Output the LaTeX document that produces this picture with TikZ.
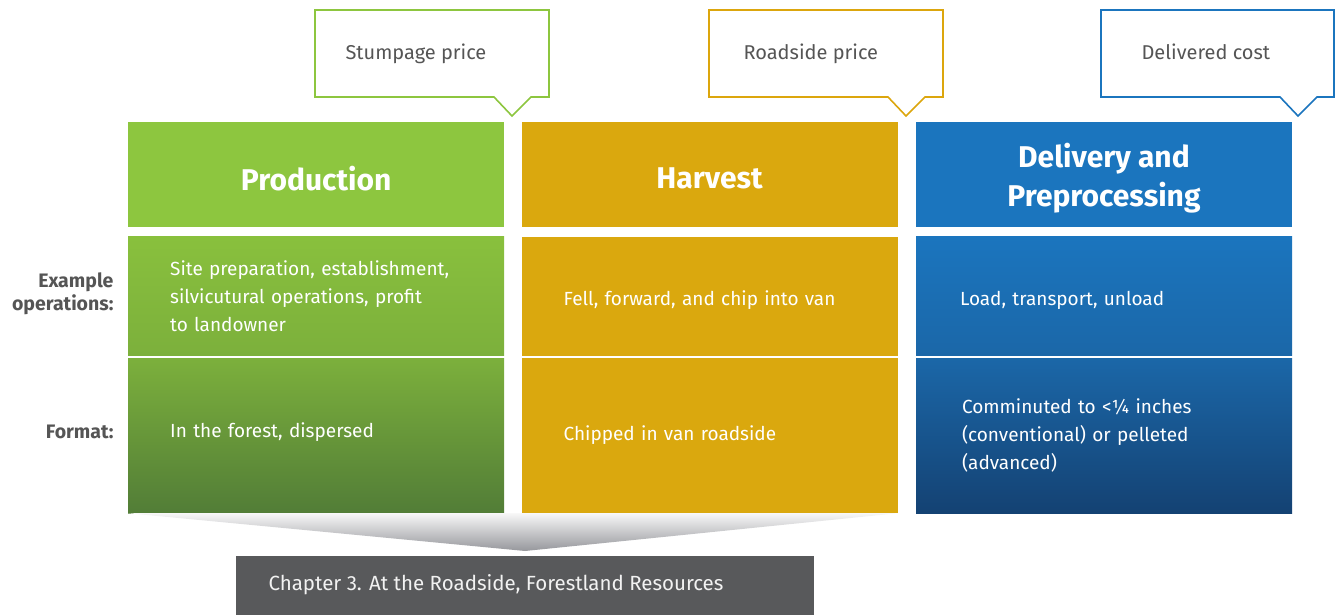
\documentclass[tikz,border=0pt]{standalone}
\usepackage{fontspec}
\setmainfont{Fira Sans}
\usetikzlibrary{positioning}

\definecolor{prodgreen}{RGB}{141,198,63}
\definecolor{prodmid}{RGB}{124,176,60}
\definecolor{proddark}{RGB}{82,125,55}
\definecolor{harvgold}{RGB}{218,168,14}
\definecolor{delblue}{RGB}{27,117,190}
\definecolor{delmid}{RGB}{27,103,168}
\definecolor{deldark}{RGB}{20,66,115}
\definecolor{labelgray}{RGB}{85,85,85}
\definecolor{chapgray}{RGB}{88,89,91}
\definecolor{funnelgray}{RGB}{150,151,156}

\begin{document}
\begin{tikzpicture}[x=1pt, y=-1pt, node distance=9pt,
    cell/.style = {minimum width=376pt, inner sep=0pt},
    head/.style = {cell, minimum height=105pt},
    headtext/.style = {align=center, text=white, yshift=-3.5pt,
        font=\fontsize{30}{39}\selectfont\bfseries},
    ops/.style = {cell, minimum height=119pt, inner xsep=42pt, text width=292pt,
        align=left, text=white, font=\fontsize{19}{28}\selectfont},
    fmt/.style = {ops, minimum height=155pt},
    tag/.style = {align=right, anchor=east, text=labelgray,
        font=\fontsize{19.5}{23}\selectfont\bfseries},
    callout/.style = {line width=1.6pt, fill=white},
    price/.style = {anchor=west, text=labelgray, font=\fontsize{20}{23}\selectfont}]
\useasboundingbox (0,0) rectangle (1335,615);

% column headers
\node[head, fill=prodgreen, anchor=north west,
    label={[headtext]center:Production}] (prod) at (128,122) {};
\node[head, fill=harvgold, right=17pt of prod,
    label={[headtext]center:Harvest}] (harv) {};
\node[head, fill=delblue, right=18pt of harv,
    label={[headtext]center:{Delivery and\\Preprocessing}}] (del) {};

% example operations
\node[ops, top color=prodgreen!97!black, bottom color=prodmid, below=of prod] (prodops)
    {Site preparation, establishment,\\silvicutural operations, profit\\to landowner};
\node[ops, fill=harvgold, below=of harv] (harvops)
    {\raisebox{-4pt}[\height][\depth]{Fell, forward, and chip into van}};
\node[ops, top color=delblue, bottom color=delmid, below=of del] (delops)
    {\raisebox{-4pt}[\height][\depth]{\hspace*{2pt}Load, transport, unload}};

% format
\node[fmt, top color=prodmid, bottom color=proddark, below=2pt of prodops] (prodfmt)
    {\raisebox{3pt}[\height][\depth]{In the forest, dispersed}};
\node[fmt, fill=harvgold, below=2pt of harvops] (harvfmt) {Chipped in van roadside};
\node[fmt, top color=delmid, bottom color=deldark, below=2pt of delops] (delfmt)
    {\hspace*{4pt}Comminuted to <¼ inches\\\hspace*{4pt}(conventional) or pelleted\\\hspace*{4pt}(advanced)};

% row labels
\node[tag] (opslabel) at (117,294) {Example\\operations:};
\node[tag] (fmtlabel) at (117,432) {Format:};

% price callouts
\draw[callout, draw=prodgreen] (315,10) -- (549,10) -- (549,97) -- (531,97) -- (512,116)
    -- (494,97) -- (315,97) -- cycle;
\node[price] (stump) at (342,54) {Stumpage price};
\draw[callout, draw=harvgold!95!orange] (709,10) -- (943,10) -- (943,97) -- (925,97)
    -- (906,116) -- (888,97) -- (709,97) -- cycle;
\node[price] (road) at (740,54) {Roadside price};
\draw[callout, draw=delblue] (1101,10) -- (1334,10) -- (1334,97) -- (1317,97)
    -- (1298,116) -- (1280,97) -- (1101,97) -- cycle;
\node[price] (deliv) at (1138,52) {Delivered cost};

% funnel to chapter
\shade[top color=gray!6, bottom color=funnelgray] (prodfmt.south west)
    -- (harvfmt.south east) -- (525,551) -- cycle;
\node[fill=chapgray, minimum width=578pt, minimum height=59pt, inner sep=0pt,
    anchor=north west] (chap) at (236,556) {};
\node[anchor=west, text=white!90!gray, font=\fontsize{20.5}{23}\selectfont]
    (chaptext) at (265,585) {Chapter 3. At the Roadside, Forestland Resources};
\end{tikzpicture}
\end{document}
